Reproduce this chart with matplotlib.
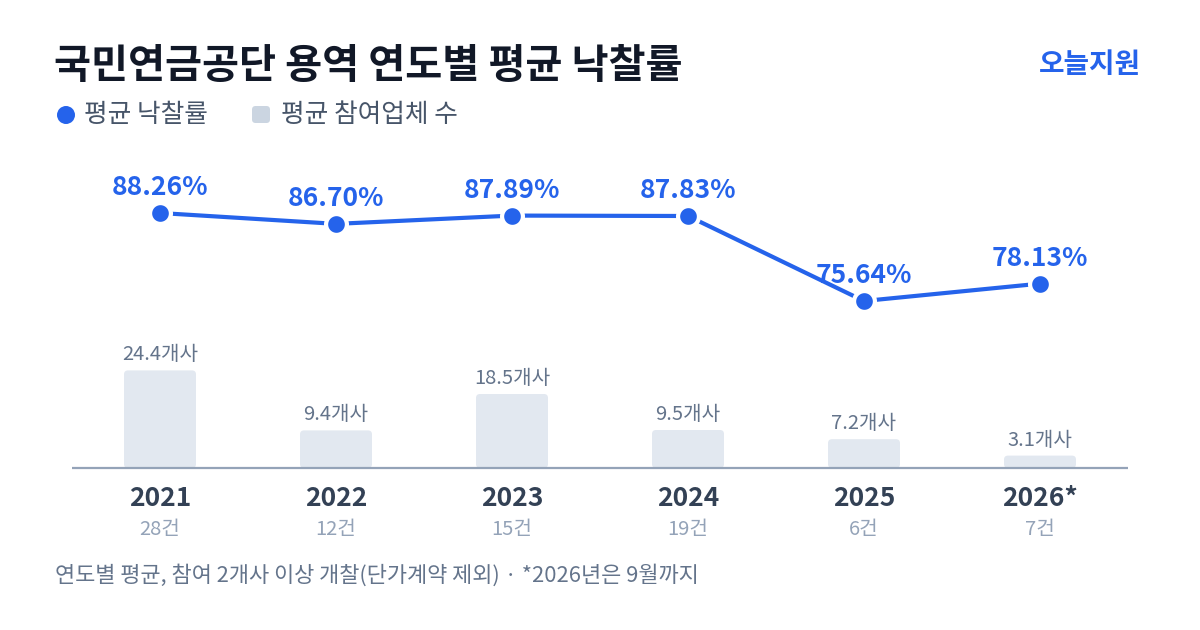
import matplotlib
matplotlib.use("Agg")
import matplotlib.pyplot as plt
from matplotlib.patches import FancyBboxPatch, Ellipse
import numpy as np

plt.rcParams['font.family'] = ['Noto Sans CJK KR', 'DejaVu Sans']

years = ["2021", "2022", "2023", "2024", "2025", "2026*"]
counts = ["28건", "12건", "15건", "19건", "6건", "7건"]
avg_rate = [88.26, 86.70, 87.89, 87.83, 75.64, 78.13]
avg_bidders = [24.4, 9.4, 18.5, 9.5, 7.2, 3.1]

W, H = 1200, 630
fig = plt.figure(figsize=(12, 6.3), dpi=100)
fig.patch.set_facecolor("white")

def fx(x):
    return x / W

def fy(y):
    return 1 - y / H

BLUE = "#2563eb"
BAR = "#e2e8f0"

# Bar axes: x from px 72 to 1128, baseline at px 468, top at px 340
ax_bar = fig.add_axes([fx(72), fy(468), (1128 - 72) / W, (468 - 340) / H])
ax_bar.set_xlim(-0.5, 5.5)
ax_bar.set_ylim(0, 32)
ax_bar.axis("off")
bw = 72 / 176
aspect = (32 / 128) / (6 / 1056)
for i, v in enumerate(avg_bidders):
    p = FancyBboxPatch((i - bw / 2, 0), bw, v,
                       boxstyle="round,pad=0,rounding_size=%f" % (4 / 176),
                       mutation_aspect=aspect, fc=BAR, ec="none", clip_on=False)
    ax_bar.add_patch(p)
    ax_bar.annotate(f"{v}개사", (i, v), xytext=(0, 5), textcoords="offset pixels",
                    ha="center", va="bottom", fontsize=14.5, color="#64748b")
ax_bar.plot([-0.5, 5.5], [0, 0], color="#94a3b8", lw=1.6, clip_on=False,
            solid_capstyle="butt")

# Line axes: px 170..320 vertically
top_px, bot_px = 170, 320
ppu = 88 / (88.26 - 75.64)
ymax = 88.26 + (213 - top_px) / ppu
ymin = 88.26 - (bot_px - 213) / ppu
ax_line = fig.add_axes([fx(72), fy(bot_px), (1128 - 72) / W, (bot_px - top_px) / H])
ax_line.set_xlim(-0.5, 5.5)
ax_line.set_ylim(ymin, ymax)
ax_line.axis("off")
xs = np.arange(len(avg_rate))
ax_line.plot(xs, avg_rate, color=BLUE, lw=3, zorder=2)
ax_line.plot(xs, avg_rate, "o", ms=15, mfc=BLUE, mec="white", mew=3, zorder=3,
             clip_on=False)
for i, v in enumerate(avg_rate):
    ax_line.annotate(f"{v:.2f}%", (i, v), xytext=(0, 12), textcoords="offset pixels",
                     ha="center", va="bottom", fontsize=19, fontweight="bold",
                     color=BLUE)

# Year and count labels
for i, (yr, c) in enumerate(zip(years, counts)):
    cx = 160 + 176 * i
    fig.text(fx(cx), fy(499), yr, ha="center", va="center", fontsize=19,
             fontweight="bold", color="#334155")
    fig.text(fx(cx), fy(530), c, ha="center", va="center", fontsize=14.5,
             color="#94a3b8")

# Title
fig.text(fx(54), fy(66), "국민연금공단 용역 연도별 평균 낙찰률", ha="left", va="center",
         fontsize=29, fontweight="bold", color="#111827")
fig.text(fx(1141), fy(65), "오늘지원", ha="right", va="center", fontsize=20,
         fontweight="bold", color=BLUE)

# Legend
fig.patches.append(Ellipse((fx(66), fy(115)), 18 / W, 18 / H,
                           transform=fig.transFigure, fc=BLUE, ec="none"))
fig.text(fx(84), fy(115), "평균 낙찰률", ha="left", va="center", fontsize=18.5,
         color="#475569")
sq = FancyBboxPatch((fx(252), fy(123)), 18 / W, 17 / H,
                    boxstyle="round,pad=0,rounding_size=0.003",
                    mutation_aspect=W / H, transform=fig.transFigure,
                    fc="#cbd5e1", ec="none")
fig.patches.append(sq)
fig.text(fx(281), fy(115), "평균 참여업체 수", ha="left", va="center", fontsize=18.5,
         color="#475569")

# Footer
fig.text(fx(55), fy(575), "연도별 평균, 참여 2개사 이상 개찰(단가계약 제외) · *2026년은 9월까지",
         ha="left", va="center", fontsize=15.8, color="#64748b")

fig.savefig("out.png", dpi=100, facecolor="white")
